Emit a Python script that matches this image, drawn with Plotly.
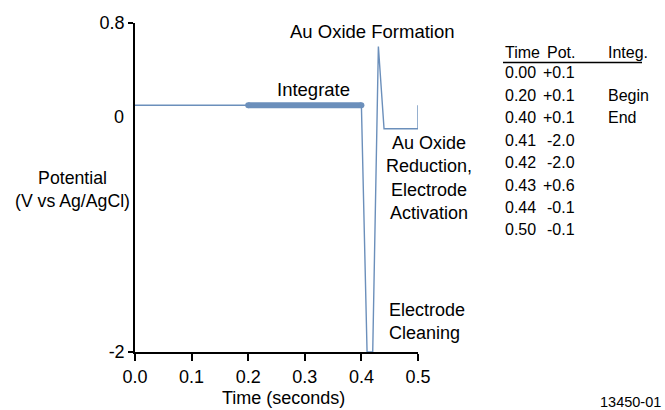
import plotly.graph_objects as go

# ---- data ----
times = [0.00, 0.20, 0.40, 0.41, 0.42, 0.43, 0.44, 0.50]
potentials = [0.1, 0.1, 0.1, -2.0, -2.0, 0.6, -0.1, -0.1]
integ = ["", "Begin", "End", "", "", "", "", ""]
end_time = [0.50]
end_pot = [0.1]
integ_t = [0.20, 0.40]
integ_v = [0.1, 0.1]
xticks = [0.0, 0.1, 0.2, 0.3, 0.4, 0.5]
yticks = [-2, 0.8]

FONT = "Liberation Sans, Arial, sans-serif"
BLUE = "#6b8fbb"

W, H = 665, 410
L, R, T, B = 135, 418, 23, 352

fig = go.Figure()
fig.add_trace(go.Scatter(x=times + end_time, y=potentials + end_pot, mode="lines",
                         line=dict(color=BLUE, width=1.4), hoverinfo="skip",
                         cliponaxis=False))
fig.add_trace(go.Scatter(x=integ_t, y=integ_v, mode="lines+markers",
                         line=dict(color=BLUE, width=6),
                         marker=dict(color=BLUE, size=6, line=dict(width=0)),
                         hoverinfo="skip"))

ann = []
def A(text, x, y, size=18.5, xanchor="center", xref="paper", yref="paper", **kw):
    ann.append(dict(text=text, x=x, y=y, xref=xref, yref=yref, showarrow=False,
                    xanchor=xanchor, yanchor="middle",
                    font=dict(family=FONT, size=size, color="black"), **kw))

def px(x):
    return (x - L) / (R - L)
def py(y):
    return (B - y) / (B - T)

# Zero label on y axis (no tick mark)
A("0", 0, 0, size=18, xref="x domain", yref="y", xanchor="right", xshift=-9)

# axis titles
A("Time (seconds)", px(283), py(398), size=18)
A("Potential<br>(V vs Ag/AgCl)", px(72), py(189), size=17.7)

# labels
A("Au Oxide Formation", px(372), py(31))
A("Integrate", px(313), py(90))
A("Au Oxide<br>Reduction,<br>Electrode<br>Activation", px(429), py(178), size=18)
A("Electrode<br>Cleaning", px(387), py(321), size=18, xanchor="left", align="left")
A("13450-01", px(630), py(402), size=14.5)

# table
TS = 16
A("Time", px(503), py(52), size=TS, xanchor="left")
A("Pot.", px(545), py(52), size=TS, xanchor="left")
A("Integ.", px(606), py(52), size=TS, xanchor="left")
row_y0, row_dy = 73, 22.4
for i, (t, p, g) in enumerate(zip(times, potentials, integ)):
    yy = py(row_y0 + i * row_dy)
    A(f"{t:.2f}", px(503), yy, size=TS, xanchor="left")
    A(f"{p:+.1f}", px(577), yy, size=TS, xanchor="right")
    if g:
        A(g, px(606), yy, size=TS, xanchor="left")

shapes = [dict(type="line", xref="paper", yref="paper",
               x0=px(503), x1=px(642), y0=py(62.5), y1=py(62.5),
               line=dict(color="black", width=1.5))]

fig.update_layout(
    width=W, height=H, autosize=False,
    margin=dict(l=L, r=W - R, t=T, b=H - B),
    paper_bgcolor="white", plot_bgcolor="white",
    showlegend=False,
    annotations=ann, shapes=shapes,
    font=dict(family=FONT, size=18, color="black"),
    xaxis=dict(range=[0, 0.5], tickvals=xticks, tickformat=".1f",
               showline=True, linecolor="black", linewidth=2,
               ticks="outside", ticklen=7, tickwidth=1.5, tickcolor="black",
               showgrid=False, zeroline=False, fixedrange=True,
               tickfont=dict(family=FONT, size=18)),
    yaxis=dict(range=[-2, 0.8], tickvals=yticks, ticktext=["-2", "0.8"],
               showline=True, linecolor="black", linewidth=1.5,
               ticks="outside", ticklen=5, tickwidth=1.5, tickcolor="black",
               showgrid=False, zeroline=False, fixedrange=True,
               tickfont=dict(family=FONT, size=18)),
)

fig.write_html("out.html")
